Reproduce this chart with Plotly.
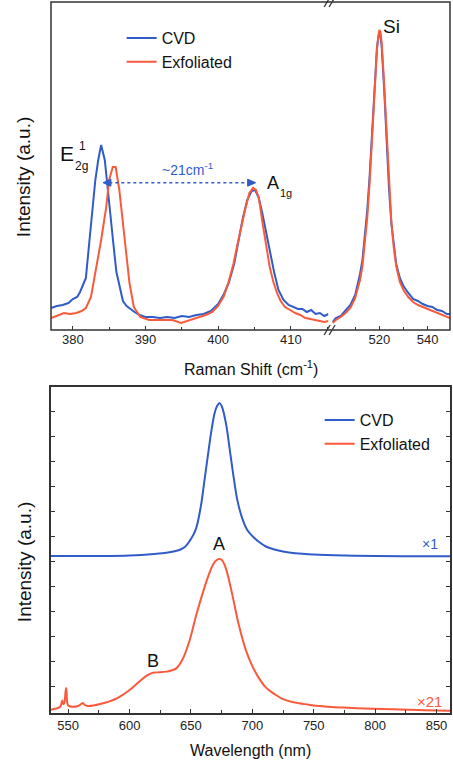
import plotly.graph_objects as go

# ---------------- Raman data (top panel) ----------------
raman_x_left_cvd = [377.0, 377.8, 378.6, 379.4, 380.0, 380.6, 381.0, 381.4, 381.8, 382.3, 382.7, 383.1,
                    383.5, 383.9, 384.4, 384.8, 385.2, 385.6, 386.0, 386.5, 386.9, 387.4, 387.9, 388.5,
                    389.2, 390.0, 391.0, 392.0, 393.0, 394.0, 395.0, 396.0, 397.0, 398.0, 399.0, 400.0,
                    400.8, 401.5, 402.2, 402.8, 403.4, 404.0, 404.6, 405.1, 405.6, 406.1, 406.6, 407.1,
                    407.7, 408.3, 409.0, 409.7, 410.4, 411.0, 411.6, 412.2, 412.8, 413.4, 414.0, 414.6, 415.2]
raman_cvd_left = [22, 24, 25, 27, 31, 33, 38, 46, 52, 90, 120, 150,
                  170, 185, 170, 140, 112, 85, 58, 40, 29, 24, 21, 18,
                  15, 13, 13, 12, 13, 12, 14, 13, 15, 16, 19, 26,
                  36, 48, 66, 88, 112, 130, 139, 140, 132, 116, 98, 78,
                  58, 40, 30, 25, 23, 21, 21, 18, 20, 16, 17, 14, 16]

raman_x_left_exf = [377.0, 378.0, 378.8, 379.6, 380.5, 381.2, 381.8, 382.5, 383.2, 383.9, 384.6, 385.0,
                    385.5, 385.9, 386.4, 386.8, 387.1, 387.5, 387.8, 388.4, 389.3, 390.5, 391.5, 392.5,
                    393.7, 394.9, 396.0, 397.0, 398.3, 399.2, 400.0, 400.8, 401.4, 402.1, 402.7, 403.2,
                    403.7, 404.3, 404.8, 405.2, 405.6, 406.2, 406.7, 407.1, 407.6, 408.1, 408.6, 409.2,
                    409.9, 410.6, 411.3, 412.0, 412.7, 413.3, 414.0, 414.6, 415.2]
raman_exf_left = [12, 15, 17, 16, 17, 19, 22, 33, 60, 90, 123, 150,
                  163, 163, 140, 112, 90, 66, 47, 23, 13, 10, 10, 10,
                  10, 7, 10, 12, 15, 18, 24, 34, 47, 66, 87, 104,
                  120, 137, 142, 140, 132, 103, 82, 63, 48, 37, 29, 23,
                  20, 17, 15, 12, 11, 10, 9, 8, 9]

raman_x_si = [500.6, 502.0, 504.0, 506.0, 508.0, 510.0, 512.0, 513.0, 514.0, 515.0, 516.0, 517.0,
              518.0, 519.0, 519.6, 520.0, 520.5, 521.0, 522.0, 523.0, 524.0, 525.0, 526.0, 527.0,
              528.5, 530.0, 532.0, 534.0, 536.0, 538.0, 540.0, 542.0, 544.0, 546.0, 548.0, 549.3]
raman_cvd_si = [8, 12, 14, 19, 25, 35, 56, 70, 96, 120, 155, 198,
                247, 282, 293, 297, 294, 282, 241, 190, 142, 106, 83, 66,
                52, 44, 37, 31, 29, 26, 24, 23, 20, 19, 16, 16]
raman_exf_si = [7, 10, 13, 17, 22, 32, 50, 64, 88, 112, 148, 190,
                240, 280, 294, 300, 298, 287, 246, 195, 146, 108, 82, 64,
                48, 40, 33, 28, 25, 23, 21, 19, 17, 15, 13, 12]

# ---------------- PL data (bottom panel) ----------------
pl_x_cvd = [536, 550, 575, 600, 620, 630, 641, 645, 650, 654, 658, 661, 664, 667, 669.5, 671.5,
            673.2, 675, 677, 679, 682, 685, 688, 692, 696, 700, 705, 711, 718, 725, 735,
            750, 775, 800, 830, 861]
pl_cvd = [6.22, 6.22, 6.22, 6.24, 6.3, 6.35, 6.47, 6.58, 6.9, 7.3, 8.2, 9.25, 10.33, 11.35, 12.0, 12.26,
          12.36, 12.24, 11.9, 11.4, 10.35, 9.3, 8.41, 7.7, 7.25, 7.02, 6.8, 6.6, 6.48, 6.4, 6.33,
          6.28, 6.24, 6.22, 6.21, 6.21]

pl_x_exf = [536, 540, 543.5, 545.2, 545.7, 546.3, 547.0, 547.8, 548.4, 549.1, 550, 553, 558, 560.5,
            562, 563.5, 566, 576, 590, 600, 608, 614, 618, 622, 630, 638, 643.5, 649, 654, 660,
            665, 668, 670.5, 673, 675, 677.5, 680, 684, 689, 695, 700, 705, 710, 714, 718, 724,
            731, 738, 745, 752, 765, 778, 792, 805, 820, 835, 850, 861]
pl_exf = [0.05, 0.1, 0.17, 0.42, 0.3, 0.28, 0.35, 0.75, 0.92, 0.4, 0.22, 0.17, 0.2, 0.28,
          0.32, 0.24, 0.2, 0.28, 0.52, 0.84, 1.18, 1.42, 1.52, 1.55, 1.58, 1.71, 2.11, 2.85, 3.79, 4.8,
          5.53, 5.88, 6.04, 6.1, 6.07, 5.85, 5.45, 4.59, 3.45, 2.4, 1.8, 1.35, 1.0, 0.82, 0.68, 0.5,
          0.38, 0.31, 0.26, 0.21, 0.16, 0.13, 0.1, 0.08, 0.06, 0.04, 0.02, 0.01]

raman_ticks_left = [380, 390, 400, 410]
raman_ticks_right = [520, 540]
pl_ticks = [550, 600, 650, 700, 750, 800, 850]
pl_yticks = [1, 2, 3, 4, 5, 6, 7, 8, 9, 10, 11, 12]

BLUE = "#2f5cc8"
RED = "#fa5a3c"
FRAME = "#333333"
FONT = "Liberation Sans, Arial, sans-serif"

fig = go.Figure()

fig.add_trace(go.Scatter(x=raman_x_left_cvd, y=raman_cvd_left, mode="lines", name="CVD",
                         line=dict(color=BLUE, width=2), xaxis="x", yaxis="y", legend="legend"))
fig.add_trace(go.Scatter(x=raman_x_left_exf, y=raman_exf_left, mode="lines", name="Exfoliated",
                         line=dict(color=RED, width=2), xaxis="x", yaxis="y", legend="legend"))
fig.add_trace(go.Scatter(x=raman_x_si, y=raman_cvd_si, mode="lines", name="CVD", showlegend=False,
                         line=dict(color=BLUE, width=2), xaxis="x3", yaxis="y"))
fig.add_trace(go.Scatter(x=raman_x_si, y=raman_exf_si, mode="lines", name="Exfoliated", showlegend=False,
                         line=dict(color=RED, width=2), xaxis="x3", yaxis="y"))
fig.add_trace(go.Scatter(x=pl_x_cvd, y=pl_cvd, mode="lines", name="CVD", line_shape="spline",
                         line=dict(color=BLUE, width=2), xaxis="x2", yaxis="y2", legend="legend2"))
fig.add_trace(go.Scatter(x=pl_x_exf, y=pl_exf, mode="lines", name="Exfoliated", line_shape="spline",
                         line=dict(color=RED, width=2), xaxis="x2", yaxis="y2", legend="legend2"))

W, H = 453, 763
ML, MR, MT, MB = 51, 1, 2, 50
PW, PH = W - ML - MR, H - MT - MB


def px_x(p):
    return (p - ML) / PW


def px_y(p):
    return (H - MB - p) / PH


top_lo = px_y(330)
bot_hi = px_y(387)

tickfont = dict(family=FONT, size=13, color="#222222")
common_x = dict(ticks="inside", ticklen=4, tickwidth=1.2, tickcolor=FRAME, showgrid=False,
                zeroline=False, tickfont=tickfont, showline=False)

fig.update_layout(
    width=W, height=H,
    margin=dict(l=ML, r=MR, t=MT, b=MB),
    paper_bgcolor="white", plot_bgcolor="white",
    font=dict(family=FONT, color="#111111"),
    xaxis=dict(domain=[0, 0.695], range=[377, 415.16], anchor="y", tickvals=raman_ticks_left,
               minor=dict(dtick=5, tick0=375, ticks="inside", ticklen=3, tickcolor=FRAME), **common_x),
    xaxis3=dict(domain=[0.705, 1], range=[500.5, 549.3], anchor="y", tickvals=raman_ticks_right,
                minor=dict(dtick=10, tick0=500, ticks="inside", ticklen=3, tickcolor=FRAME), **common_x),
    yaxis=dict(domain=[top_lo, 1], range=[0, 328], anchor="x", showticklabels=False, ticks="",
               showgrid=False, zeroline=False, showline=False),
    xaxis2=dict(domain=[0, 1], range=[536, 861], anchor="y2", tickvals=pl_ticks,
                minor=dict(dtick=25, tick0=500, ticks="inside", ticklen=3, tickcolor=FRAME),
                ticks="inside", ticklen=4, tickwidth=1.2, tickcolor=FRAME, showgrid=False,
                zeroline=False, tickfont=tickfont, showline=True, linecolor=FRAME, linewidth=1.5,
                mirror=True),
    yaxis2=dict(domain=[0, bot_hi], range=[-0.08, 13.0], anchor="x2", tickvals=pl_yticks,
                showticklabels=False, ticks="inside", ticklen=4, tickwidth=1.2, tickcolor=FRAME,
                showgrid=False, zeroline=False, showline=True, linecolor=FRAME, linewidth=1.5,
                mirror="ticks"),
    legend=dict(x=px_x(122), y=px_y(21), xanchor="left", yanchor="top", bgcolor="rgba(0,0,0,0)",
                font=dict(family=FONT, size=16, color="#111111"), tracegroupgap=0),
    legend2=dict(x=px_x(321), y=px_y(403), xanchor="left", yanchor="top", bgcolor="rgba(0,0,0,0)",
                 font=dict(family=FONT, size=16, color="#111111"), tracegroupgap=0),
)

shapes = []
shapes.append(dict(type="rect", xref="paper", yref="paper", x0=0, x1=1, y0=top_lo, y1=1,
                   line=dict(color=FRAME, width=1.5), layer="above"))
for cy in (2, 330):
    for cx in (328.5, 333.5):
        shapes.append(dict(type="line", xref="paper", yref="paper",
                           x0=px_x(cx - 3), y0=px_y(cy + 5), x1=px_x(cx + 3), y1=px_y(cy - 5),
                           line=dict(color=FRAME, width=1.3), layer="above"))
# dashed double arrow (~21 cm-1)
arr_y = 147.3
arr_l, arr_r = 384.15, 405.16
hx = 8 / 7.3  # arrow head length in data units (8 px)
shapes.append(dict(type="line", xref="x", yref="y", x0=arr_l + hx * 0.8, x1=arr_r - hx * 0.8,
                   y0=arr_y, y1=arr_y, line=dict(color=BLUE, width=1.4, dash="dot")))
shapes.append(dict(type="path", xref="x", yref="y", fillcolor=BLUE, line=dict(color=BLUE, width=1),
                   path=f"M {arr_l},{arr_y} L {arr_l + hx},{arr_y + 3.5} L {arr_l + hx},{arr_y - 3.5} Z"))
shapes.append(dict(type="path", xref="x", yref="y", fillcolor=BLUE, line=dict(color=BLUE, width=1),
                   path=f"M {arr_r},{arr_y} L {arr_r - hx},{arr_y + 3.5} L {arr_r - hx},{arr_y - 3.5} Z"))
fig.update_layout(shapes=shapes)

ann = []
ann.append(dict(x=395.8, y=161, xref="x", yref="y", text="~21cm<sup>-1</sup>", showarrow=False,
                font=dict(family=FONT, size=14, color=BLUE)))
ann.append(dict(x=379.25, y=176.5, xref="x", yref="y", text="E", showarrow=False,
                font=dict(family=FONT, size=21, color="#111111")))
ann.append(dict(x=381.33, y=184, xref="x", yref="y", text="1", showarrow=False,
                font=dict(family=FONT, size=12, color="#111111")))
ann.append(dict(x=381.15, y=164, xref="x", yref="y", text="2g", showarrow=False,
                font=dict(family=FONT, size=12, color="#111111")))
ann.append(dict(x=407.56, y=147.5, xref="x", yref="y", text="A", showarrow=False,
                font=dict(family=FONT, size=18, color="#111111")))
ann.append(dict(x=409.4, y=137.5, xref="x", yref="y", text="1g", showarrow=False,
                font=dict(family=FONT, size=11, color="#111111")))
ann.append(dict(x=525.1, y=304, xref="x3", yref="y", text="Si", showarrow=False,
                font=dict(family=FONT, size=19, color="#111111")))
ann.append(dict(x=673.2, y=6.7, xref="x2", yref="y2", text="A", showarrow=False,
                font=dict(family=FONT, size=18, color="#111111")))
ann.append(dict(x=618.9, y=2.0, xref="x2", yref="y2", text="B", showarrow=False,
                font=dict(family=FONT, size=18, color="#111111")))
ann.append(dict(x=844.5, y=6.71, xref="x2", yref="y2", text="×1", showarrow=False,
                font=dict(family=FONT, size=14, color=BLUE)))
ann.append(dict(x=844, y=0.39, xref="x2", yref="y2", text="×21", showarrow=False,
                font=dict(family=FONT, size=15, color=RED)))
ann.append(dict(x=0.5, y=px_y(368), xref="paper", yref="paper", text="Raman Shift (cm<sup>-1</sup>)",
                xanchor="center", yanchor="middle",
                showarrow=False, font=dict(family=FONT, size=16, color="#111111")))
ann.append(dict(x=0.5, y=px_y(750), xref="paper", yref="paper", text="Wavelength (nm)",
                xanchor="center", yanchor="middle",
                showarrow=False, font=dict(family=FONT, size=16, color="#111111")))
ann.append(dict(x=px_x(24), y=px_y(177), xref="paper", yref="paper", text="Intensity (a.u.)",
                xanchor="center", yanchor="middle",
                textangle=-90, showarrow=False, font=dict(family=FONT, size=19, color="#111111")))
ann.append(dict(x=px_x(24), y=px_y(562), xref="paper", yref="paper", text="Intensity (a.u.)",
                xanchor="center", yanchor="middle",
                textangle=-90, showarrow=False, font=dict(family=FONT, size=19, color="#111111")))
fig.update_layout(annotations=ann)

fig.write_html("out.html")
